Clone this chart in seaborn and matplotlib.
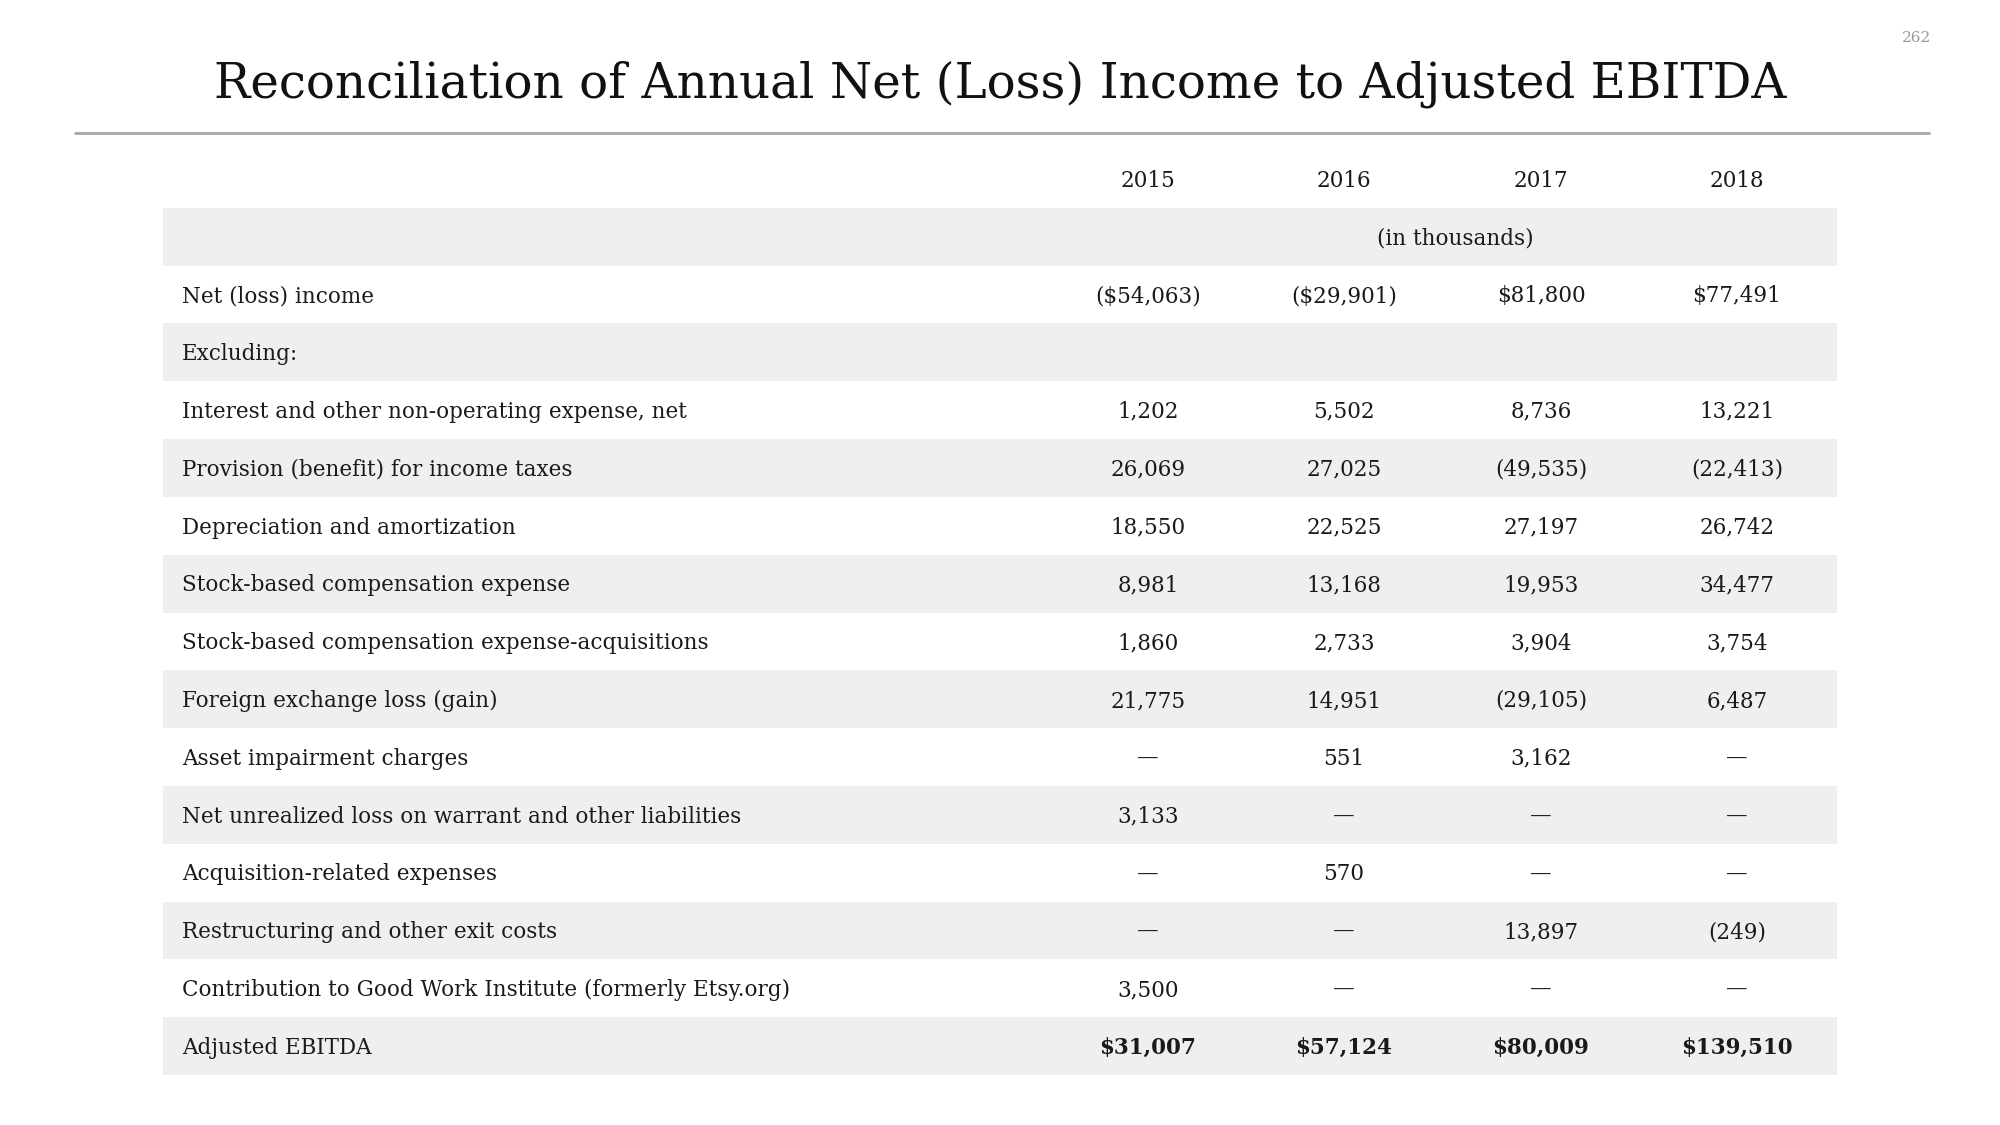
import numpy as np
import matplotlib.pyplot as plt
import seaborn as sns
from matplotlib.colors import ListedColormap

sns.set_theme(style="white")
plt.rcParams['font.family'] = ['DejaVu Serif']

# table content
title = 'Reconciliation of Annual Net (Loss) Income to Adjusted EBITDA'
page_no = '262'
years = ['2015', '2016', '2017', '2018']
unit_note = '(in thousands)'
row_labels = [
    'Net (loss) income',
    'Excluding:',
    'Interest and other non-operating expense, net',
    'Provision (benefit) for income taxes',
    'Depreciation and amortization',
    'Stock-based compensation expense',
    'Stock-based compensation expense-acquisitions',
    'Foreign exchange loss (gain)',
    'Asset impairment charges',
    'Net unrealized loss on warrant and other liabilities',
    'Acquisition-related expenses',
    'Restructuring and other exit costs',
    'Contribution to Good Work Institute (formerly Etsy.org)',
    'Adjusted EBITDA',
]
vals_2015 = ['($54,063)', '', '1,202', '26,069', '18,550', '8,981', '1,860', '21,775', '—', '3,133', '—', '—', '3,500', '$31,007']
vals_2016 = ['($29,901)', '', '5,502', '27,025', '22,525', '13,168', '2,733', '14,951', '551', '—', '570', '—', '—', '$57,124']
vals_2017 = ['$81,800', '', '8,736', '(49,535)', '27,197', '19,953', '3,904', '(29,105)', '3,162', '—', '—', '13,897', '—', '$80,009']
vals_2018 = ['$77,491', '', '13,221', '(22,413)', '26,742', '34,477', '3,754', '6,487', '—', '—', '—', '(249)', '—', '$139,510']
bold_rows = ['Adjusted EBITDA']

columns = [vals_2015, vals_2016, vals_2017, vals_2018]
n_rows = len(row_labels) + 2  # year header + unit note row
stripes = np.array([[i % 2] for i in range(n_rows)])

W, H = 2000, 1125
fig = plt.figure(figsize=(20, 11.25), dpi=100)
fig.patch.set_facecolor('white')

# table area in figure fraction
tx0, tx1 = 163 / W, 1837 / W
ty_top, ty_bot = 150 / H, 1075 / H
ax = fig.add_axes([tx0, 1 - ty_bot, tx1 - tx0, ty_bot - ty_top])
sns.heatmap(stripes, cmap=ListedColormap(['#ffffff', '#efefef']), cbar=False,
            xticklabels=False, yticklabels=False, ax=ax, vmin=0, vmax=1)
ax.set_xlim(0, 1)
ax.axis('off')

col_x = [(x - 163) / 1674 for x in (1148, 1344, 1541, 1737)]
label_x = (182 - 163) / 1674
txt_color = '#1a1a1a'
fs = 15.5
dy = 0.03  # nudge text slightly down like the reference

for j, y in enumerate(years):
    ax.text(col_x[j], 0.5 + dy, y, ha='center', va='center', fontsize=fs, color=txt_color)
ax.text((1455 - 163) / 1674, 1.5 + dy, unit_note, ha='center', va='center', fontsize=fs, color=txt_color)

for i, lab in enumerate(row_labels):
    yy = i + 2.5 + dy
    ax.text(label_x, yy, lab, ha='left', va='center', fontsize=fs, color=txt_color)
    weight = 'bold' if lab in bold_rows else 'normal'
    for j, col in enumerate(columns):
        ax.text(col_x[j], yy, col[i], ha='center', va='center', fontsize=fs,
                color=txt_color, fontweight=weight)

# title, rule and page number
fig.text(0.5, 1 - 84 / H, title, ha='center', va='center', fontsize=34.8, color='#111111')
fig.add_artist(plt.Line2D([75 / W, 1929 / W], [1 - 133 / H, 1 - 133 / H],
                          color='#a6a6a6', linewidth=2))
fig.text(1917 / W, 1 - 38 / H, page_no, ha='center', va='center', fontsize=11, color='#999999')

fig.savefig('out.png', dpi=100, facecolor='white')
